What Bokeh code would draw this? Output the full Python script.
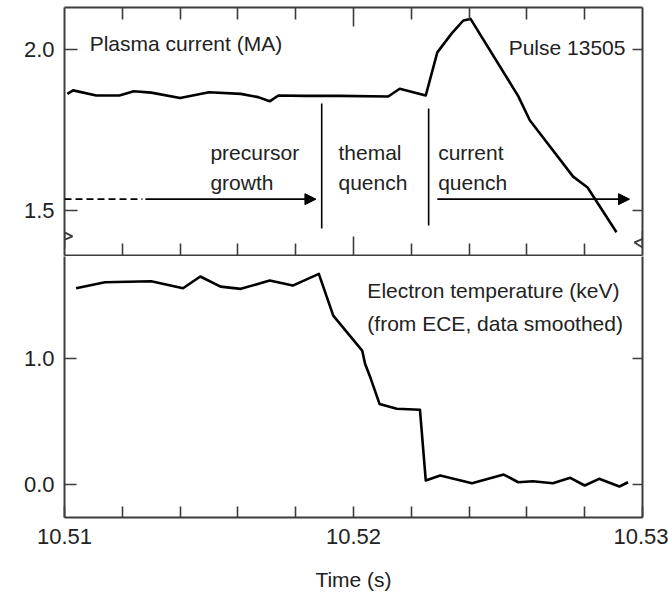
from bokeh.plotting import figure
from bokeh.models import (Range1d, LinearAxis, FixedTicker, NumeralTickFormatter,
                          CustomJSTickFormatter, Label, Arrow, NormalHead, PolyAnnotation)
from bokeh.layouts import column
from bokeh.embed import file_html
from bokeh.resources import INLINE

# ---------------- data ----------------
current_time = [10.5101, 10.5103, 10.5111, 10.5119, 10.5124, 10.5130, 10.5140, 10.5150,
                10.5161, 10.5167, 10.5171, 10.5174, 10.5183, 10.5195, 10.5212, 10.5216,
                10.5225, 10.5229, 10.5234, 10.5238, 10.52405, 10.5257, 10.5261, 10.5276,
                10.5281, 10.5291]
current_ma = [1.862, 1.873, 1.857, 1.857, 1.870, 1.866, 1.849, 1.867,
              1.862, 1.852, 1.839, 1.857, 1.856, 1.856, 1.854, 1.878,
              1.857, 1.991, 2.050, 2.090, 2.095, 1.855, 1.780, 1.605,
              1.571, 1.432]

te_time = [10.5104, 10.5114, 10.5130, 10.5141, 10.5147, 10.5154, 10.5161, 10.5171,
           10.5179, 10.5188, 10.5193, 10.5203, 10.5204, 10.5206, 10.5209, 10.5215,
           10.5223, 10.5225, 10.5230, 10.5241, 10.5252, 10.5257, 10.5262, 10.5269,
           10.5275, 10.5280, 10.5285, 10.5292, 10.5295]
te_kev = [1.558, 1.606, 1.613, 1.558, 1.651, 1.571, 1.553, 1.619,
          1.579, 1.672, 1.341, 1.063, 0.958, 0.839, 0.640, 0.601,
          0.593, 0.032, 0.071, 0.010, 0.079, 0.018, 0.026, 0.010,
          0.053, -0.008, 0.045, -0.016, 0.018]

phase_bounds = [10.5189, 10.5226]
x_major = [10.51, 10.52, 10.53]
x_minor = [10.512, 10.514, 10.516, 10.518, 10.522, 10.524, 10.526, 10.528]
top_yticks = [1.5, 2.0]
bottom_yticks = [0.0, 1.0]

# ---------------- styling ----------------
FONT = "Liberation Sans"
AX = "#3c3c3c"
TXT = "#222222"
X0, X1 = 10.51, 10.53
TOP_YR = (1.360, 2.1304)
BOT_YR = (-0.262, 1.810)


def make_fig(height, yr, top, bottom):
    p = figure(width=668, height=height, x_range=Range1d(X0, X1), y_range=Range1d(*yr),
               output_backend="svg", toolbar_location=None,
               x_axis_location=None, y_axis_location=None,
               min_border_left=64, min_border_right=26,
               min_border_top=top, min_border_bottom=bottom)
    p.grid.visible = False
    p.outline_line_color = None
    p.background_fill_color = "white"
    p.border_fill_color = "white"
    return p


def add_axis(p, side, ticker, tick_in, minor_in=0, labels=False, fmt=None):
    ax = LinearAxis(ticker=ticker)
    ax.axis_line_color = AX
    ax.axis_line_width = 2
    ax.major_tick_in = tick_in
    ax.major_tick_out = 0
    ax.minor_tick_in = minor_in
    ax.minor_tick_out = 0
    ax.major_tick_line_color = AX
    ax.major_tick_line_width = 1.6
    ax.minor_tick_line_color = AX
    ax.minor_tick_line_width = 1.6
    if labels:
        ax.formatter = fmt
        ax.major_label_text_font = FONT
        ax.major_label_text_font_size = "22px"
        ax.major_label_text_color = TXT
        ax.major_label_standoff = 10
    else:
        ax.formatter = CustomJSTickFormatter(code="return ''")
        ax.major_label_text_font_size = "1px"
        ax.major_label_standoff = 0
    p.add_layout(ax, side)
    return ax


def label(p, x, y, text, align="left"):
    p.add_layout(Label(x=x, y=y, text=text, text_font=FONT, text_font_size="21px",
                       text_color=TXT, text_align=align, text_baseline="alphabetic"))


# ---------------- top panel: plasma current ----------------
p1 = make_fig(256, TOP_YR, 7, 1)
add_axis(p1, "left", FixedTicker(ticks=top_yticks), 13, labels=True,
         fmt=NumeralTickFormatter(format="0.0"))
add_axis(p1, "right", FixedTicker(ticks=top_yticks), 10)
add_axis(p1, "above", FixedTicker(ticks=[10.52], minor_ticks=x_minor), 19, 12)
add_axis(p1, "below", FixedTicker(ticks=[10.52], minor_ticks=x_minor), 19, 12)

p1.line(current_time, current_ma, line_color="black", line_width=2.6, line_join="round")

# phase boundaries
p1.segment(x0=phase_bounds, x1=phase_bounds, y0=[1.832, 1.817], y1=[1.444, 1.453],
           line_color="black", line_width=1.6)

# arrows
ARROW_Y = 1.535
p1.add_layout(Arrow(end=None, x_start=X0, y_start=ARROW_Y, x_end=10.5127, y_end=ARROW_Y,
                    line_color="black", line_width=1.6, line_dash="7 4"))
p1.add_layout(Arrow(end=NormalHead(size=11, fill_color="black", line_color="black"),
                    x_start=10.5128, y_start=ARROW_Y, x_end=phase_bounds[0] - 0.0002,
                    y_end=ARROW_Y, line_color="black", line_width=1.6))
p1.add_layout(Arrow(end=NormalHead(size=11, fill_color="black", line_color="black"),
                    x_start=10.5229, y_start=ARROW_Y, x_end=10.52955,
                    y_end=ARROW_Y, line_color="black", line_width=1.6))

# axis break marks (zigzags) on both sides
dx = (X1 - X0) / 578.0
dy = (TOP_YR[1] - TOP_YR[0]) / 248.0
zig = [(0, 8), (8, 4), (-8, -3), (0, -8)]
for xa, yc in ((X0, 1.407), (X1, 1.410)):
    p1.add_layout(PolyAnnotation(xs=[xa + zx * dx for zx, zy in zig],
                                 ys=[yc + zy * dy for zx, zy in zig],
                                 fill_alpha=0, line_color=AX, line_alpha=1.0,
                                 line_width=1.8))

label(p1, 10.51087, 2.018, "Plasma current (MA)")
label(p1, 10.52941, 2.006, "Pulse 13505", align="right")
label(p1, 10.51505, 1.680, "precursor")
label(p1, 10.51505, 1.587, "growth")
label(p1, 10.51948, 1.680, "themal")
label(p1, 10.51948, 1.587, "quench")
label(p1, 10.52293, 1.680, "current")
label(p1, 10.52293, 1.587, "quench")

# ---------------- bottom panel: electron temperature ----------------
p2 = make_fig(341, BOT_YR, 0, 80)
add_axis(p2, "left", FixedTicker(ticks=bottom_yticks), 12, labels=True,
         fmt=NumeralTickFormatter(format="0.0"))
add_axis(p2, "right", FixedTicker(ticks=bottom_yticks), 10)
xb = add_axis(p2, "below", FixedTicker(ticks=x_major, minor_ticks=x_minor), 11, 11,
              labels=True, fmt=NumeralTickFormatter(format="0.00"))
xb.major_label_standoff = 11
xb.axis_label = "Time (s)"
xb.axis_label_text_font = FONT
xb.axis_label_text_font_size = "21px"
xb.axis_label_text_font_style = "normal"
xb.axis_label_text_color = TXT
xb.axis_label_standoff = 21

p2.line(te_time, te_kev, line_color="black", line_width=2.6, line_join="round")

label(p2, 10.52048, 1.540, "Electron temperature (keV)")
label(p2, 10.52048, 1.278, "(from ECE, data smoothed)")

layout = column(p1, p2, spacing=0)
open("out.html", "w").write(file_html(layout, INLINE))
